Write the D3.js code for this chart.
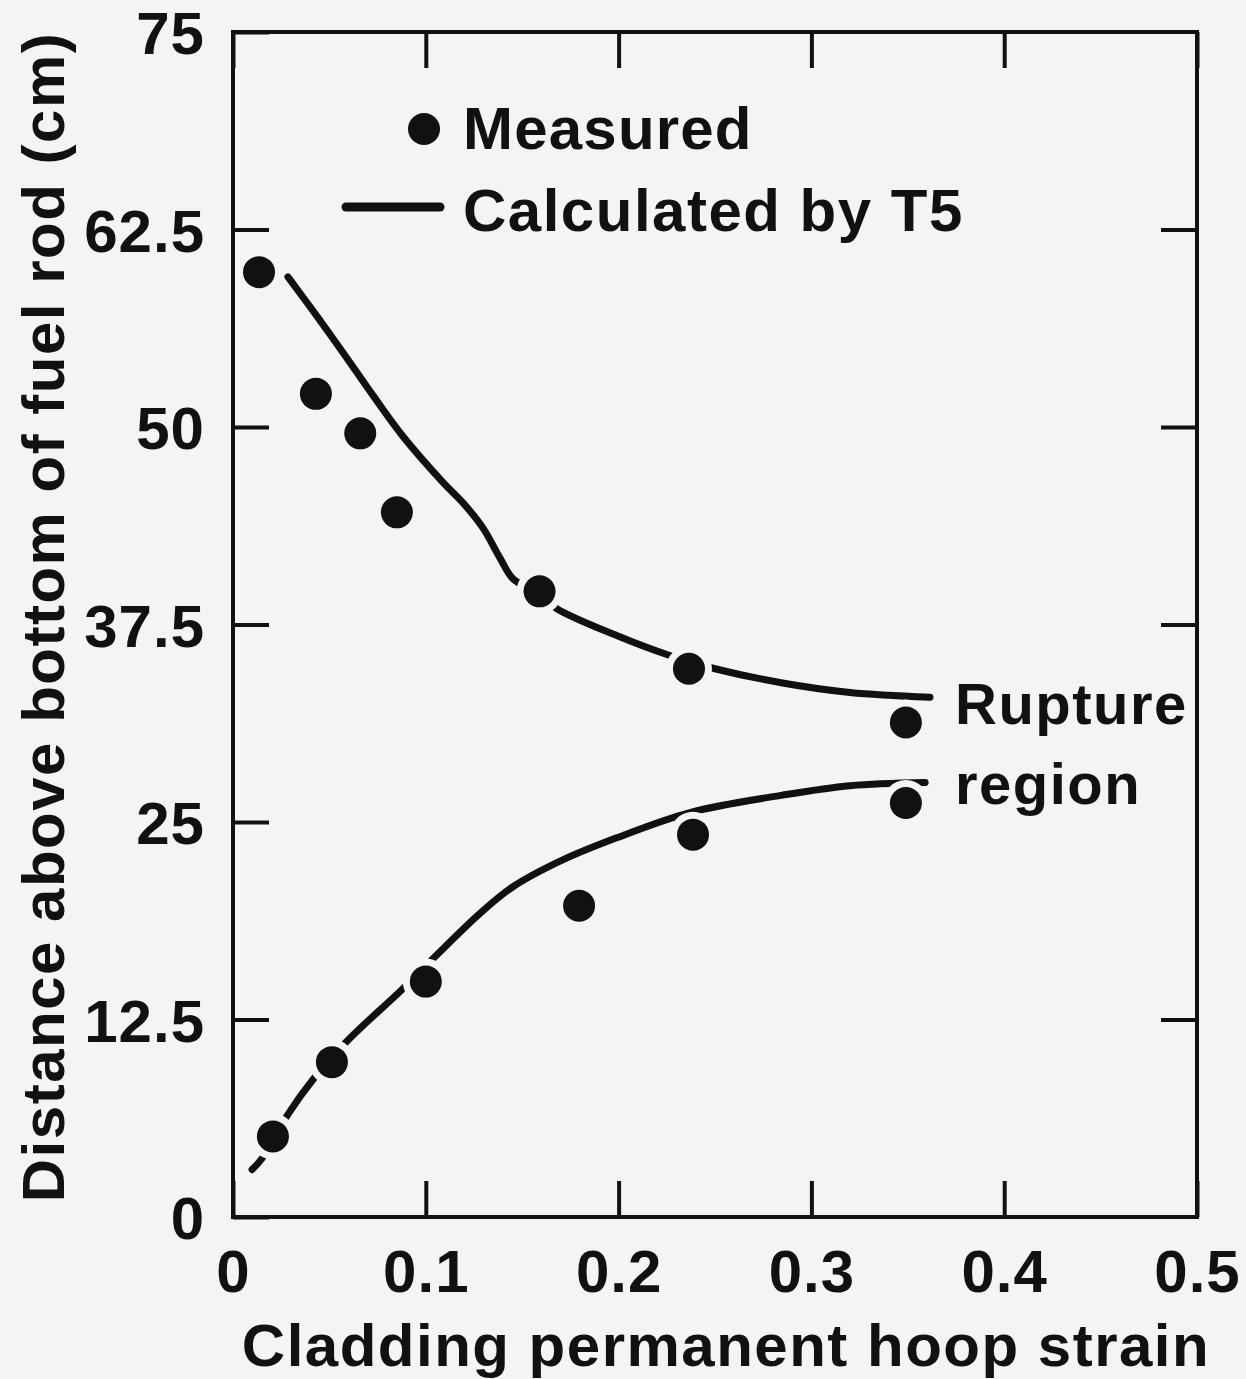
<!DOCTYPE html>
<html>
<head>
<meta charset="utf-8">
<script src="https://cdn.jsdelivr.net/npm/d3@7"></script>
<style>
  html, body { margin: 0; padding: 0; background: #f4f4f2; }
  svg { display: block; }
  text { font-family: "Liberation Sans", Arial, Helvetica, sans-serif; font-weight: bold; fill: #111; }
</style>
</head>
<body>
<svg id="chart" width="1246" height="1379"></svg>
<script>
// ---- data ----
const xTicks = [0, 0.1, 0.2, 0.3, 0.4, 0.5];
const xTickLabels = ["0", "0.1", "0.2", "0.3", "0.4", "0.5"];
const yTicks = [0, 12.5, 25, 37.5, 50, 62.5, 75];
const yTickLabels = ["0", "12.5", "25", "37.5", "50", "62.5", "75"];
const yTicksRight = [12.5, 37.5, 50, 62.5];

// measured (strain, distance cm)
const measuredX = [0.0135, 0.043, 0.066, 0.085, 0.159, 0.2365, 0.349,
                   0.0207, 0.0513, 0.100, 0.1795, 0.2386, 0.349];
const measuredY = [59.8, 52.1, 49.6, 44.6, 39.6, 34.7, 31.3,
                   5.1, 9.8, 14.9, 19.7, 24.2, 26.2];

// calculated by T5 — upper branch
const calcUpperX = [0.0285, 0.0436, 0.0571, 0.0726, 0.0882, 0.1089, 0.1193, 0.1297, 0.1385, 0.1452, 0.159, 0.168, 0.199, 0.225, 0.25, 0.285, 0.32, 0.3615];
const calcUpperY = [59.5, 57.0, 54.7, 52.0, 49.4, 46.5, 45.2, 43.6, 41.7, 40.4, 39.4, 38.5, 36.8, 35.6, 34.7, 33.8, 33.2, 32.9];
// calculated by T5 — lower branch
const calcLowerX = [0.0099, 0.015, 0.0285, 0.0415, 0.0597, 0.0877, 0.1058, 0.128, 0.1452, 0.171, 0.199, 0.237, 0.285, 0.32, 0.359];
const calcLowerY = [3.0, 3.7, 6.5, 8.7, 11.2, 14.4, 16.6, 19.2, 20.9, 22.6, 24.0, 25.6, 26.7, 27.3, 27.5];

const xTitle = "Cladding permanent hoop strain";
const yTitle = "Distance above bottom of fuel rod (cm)";
const legendLabels = ["Measured", "Calculated by T5"];
const regionLabels = ["Rupture", "region"];

// ---- layout ----
const svg = d3.select("#chart");
const L = 233, R = 1197, T = 32, B = 1217;
const x = d3.scaleLinear().domain([0, 0.5]).range([L, R]);
const y = d3.scaleLinear().domain([0, 75]).range([B, T]);
const ink = "#111";
const bg = "#f4f4f2";
const TICK = 36;

// axes (inward ticks)
function styleAxis(g) {
  g.select(".domain").remove();
  g.selectAll(".tick line").attr("stroke", ink).attr("stroke-width", 4);
  g.selectAll(".tick text").attr("fill", ink)
    .style("font-size", "60px").style("letter-spacing", "1px")
    .attr("font-family", null);
}

svg.append("g").attr("transform", `translate(0,${B})`)
  .call(d3.axisBottom(x).tickValues(xTicks).tickSizeInner(-TICK).tickSizeOuter(0)
        .tickPadding(32).tickFormat((d, i) => xTickLabels[i]))
  .call(styleAxis);

svg.append("g").attr("transform", `translate(0,${T})`)
  .call(d3.axisTop(x).tickValues(xTicks).tickSizeInner(-TICK).tickSizeOuter(0).tickFormat(""))
  .call(styleAxis);

svg.append("g").attr("transform", `translate(${L},0)`)
  .call(d3.axisLeft(y).tickValues(yTicks).tickSizeInner(-TICK).tickSizeOuter(0)
        .tickPadding(28).tickFormat((d, i) => yTickLabels[i]))
  .call(styleAxis)
  .selectAll(".tick text").attr("dy", "0.36em");

svg.append("g").attr("transform", `translate(${R},0)`)
  .call(d3.axisRight(y).tickValues(yTicksRight).tickSizeInner(-TICK).tickSizeOuter(0).tickFormat(""))
  .call(styleAxis);

// frame
svg.append("rect").attr("x", L).attr("y", T).attr("width", R - L).attr("height", B - T)
  .attr("fill", "none").attr("stroke", ink).attr("stroke-width", 4);

// calculated lines
const line = d3.line().x(d => x(d[0])).y(d => y(d[1])).curve(d3.curveCatmullRom.alpha(0.5));
const upper = calcUpperX.map((v, i) => [v, calcUpperY[i]]);
const lower = calcLowerX.map((v, i) => [v, calcLowerY[i]]);
svg.selectAll("path.calc").data([upper, lower]).join("path")
  .attr("class", "calc")
  .attr("d", line)
  .attr("fill", "none").attr("stroke", ink).attr("stroke-width", 7)
  .attr("stroke-linecap", "round").attr("stroke-linejoin", "round");

// measured points with halo
const pts = measuredX.map((v, i) => [v, measuredY[i]]);
svg.selectAll("circle.halo").data(pts).join("circle")
  .attr("class", "halo")
  .attr("cx", d => x(d[0])).attr("cy", d => y(d[1])).attr("r", 23).attr("fill", bg);
svg.selectAll("circle.meas").data(pts).join("circle")
  .attr("class", "meas")
  .attr("cx", d => x(d[0])).attr("cy", d => y(d[1])).attr("r", 16).attr("fill", ink);

// legend
svg.append("circle").attr("cx", 424).attr("cy", 129).attr("r", 16).attr("fill", ink);
svg.append("line").attr("x1", 346).attr("x2", 440).attr("y1", 207).attr("y2", 207)
  .attr("stroke", ink).attr("stroke-width", 9).attr("stroke-linecap", "round");
svg.append("text").attr("x", 463).attr("y", 149).style("font-size", "60px")
  .style("letter-spacing", "1.2px").text(legendLabels[0]);
svg.append("text").attr("x", 463).attr("y", 231).style("font-size", "60px")
  .style("letter-spacing", "1.5px").text(legendLabels[1]);

// rupture region label
svg.append("text").attr("x", 955).attr("y", 724).style("font-size", "58px")
  .style("letter-spacing", "1.5px").text(regionLabels[0]);
svg.append("text").attr("x", 955).attr("y", 804).style("font-size", "58px")
  .style("letter-spacing", "1.5px").text(regionLabels[1]);

// axis titles
svg.append("text").attr("x", 726).attr("y", 1366).attr("text-anchor", "middle")
  .style("font-size", "60px").style("letter-spacing", "1.5px").text(xTitle);
svg.append("text").attr("transform", "translate(64,617) rotate(-90)").attr("text-anchor", "middle")
  .style("font-size", "60px").style("letter-spacing", "1.5px").text(yTitle);
</script>
</body>
</html>
